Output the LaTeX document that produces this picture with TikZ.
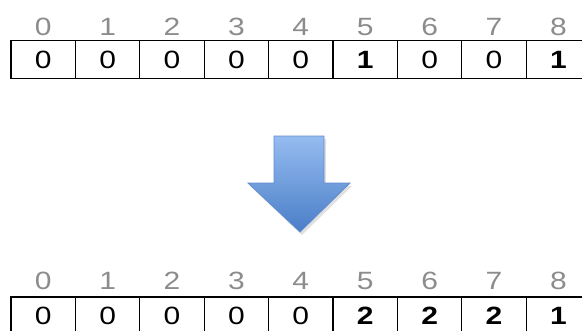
\documentclass[tikz,border=0pt]{standalone}
\usepackage{fontspec}
\setmainfont{Liberation Sans}
\definecolor{idxgray}{RGB}{140,140,140}
\definecolor{arrtop}{RGB}{150,188,240}
\definecolor{arrbot}{RGB}{74,126,200}
\definecolor{arredge}{RGB}{96,140,205}
\newcommand{\wide}[1]{\scalebox{1.2}[1]{#1}}
\begin{document}
\begin{tikzpicture}[x=1pt,y=-1pt,
  cell/.style={draw=black,line width=1.2pt,minimum width=64.4pt,minimum height=38pt,inner sep=0pt,font=\fontsize{25}{25}\selectfont},
  idx/.style={text=idxgray,inner sep=0pt,font=\fontsize{25}{25}\selectfont},
  bold/.style={font=\fontsize{25}{25}\selectfont\bfseries}]
\useasboundingbox (0,0) rectangle (582,330);
\clip (0,0) rectangle (582,330);
% top array
\foreach \i/\v/\b in {0/0/0,1/0/0,2/0/0,3/0/0,4/0/0,5/1/1,6/0/0,7/0/0,8/1/1}{
  \pgfmathsetmacro{\cx}{11+64.4*(\i+0.5)}
  \node[idx] (ta\i) at (\cx,27) {\wide{\i}};
  \ifnum\b=1
    \node[cell,bold] (t\i) at (\cx,59.5) {\wide{\v}};
  \else
    \node[cell] (t\i) at (\cx,59.5) {\wide{\v}};
  \fi
}
% bottom array
\foreach \i/\v/\b in {0/0/0,1/0/0,2/0/0,3/0/0,4/0/0,5/2/1,6/2/1,7/2/1,8/1/1}{
  \pgfmathsetmacro{\cx}{11+64.4*(\i+0.5)}
  \node[idx] (ba\i) at (\cx,281) {\wide{\i}};
  \ifnum\b=1
    \node[cell,bold] (b\i) at (\cx,316) {\wide{\v}};
  \else
    \node[cell] (b\i) at (\cx,316) {\wide{\v}};
  \fi
}
% arrow
\fill[black,opacity=0.12] (276,139) -- (326,139) -- (326,186) -- (352,186) -- (302,235) -- (250,186) -- (276,186) -- cycle;
\draw[arredge,line width=0.8pt,top color=arrtop,bottom color=arrbot]
  (274,136) -- (324,136) -- (324,183) -- (350,183) -- (300,232) -- (248,183) -- (274,183) -- cycle;
\end{tikzpicture}
\end{document}
